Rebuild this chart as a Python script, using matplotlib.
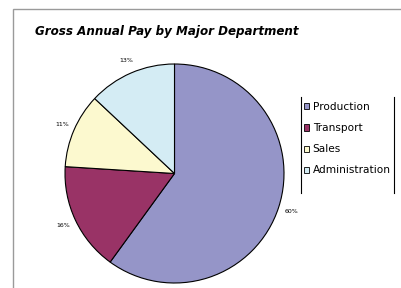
import matplotlib

matplotlib.use("Agg")
import matplotlib.pyplot as plt
from matplotlib.lines import Line2D
from matplotlib.patches import Rectangle

departments = ["Production", "Transport", "Sales", "Administration"]
gross_pay = [60, 16, 11, 13]
slice_colors = ["#9595c8", "#993366", "#fcf9cf", "#d4ecf4"]
chart_title = "Gross Annual Pay by Major Department"

plt.rcParams["font.family"] = ["DejaVu Sans"]

W, H = 401, 288
fig = plt.figure(figsize=(W / 100, H / 100), dpi=100)

# chart area border (extends past the right and bottom of the image)
fig.add_artist(Rectangle((13 / W, -0.1), 1.2, 1.1 - 9 / H, transform=fig.transFigure,
                         facecolor="none", edgecolor="#9a9a9a", linewidth=1.0))

fig.text(35 / W, 1 - 32 / H, chart_title, fontsize=8.6, fontweight="bold",
         fontstyle="italic", va="center", ha="left")

ax = fig.add_axes([65 / W, 5 / H, 219 / W, 219 / H])
wedges, texts, autotexts = ax.pie(
    gross_pay,
    colors=slice_colors,
    startangle=90,
    counterclock=False,
    autopct="%1.0f%%",
    pctdistance=1.12,
    wedgeprops={"edgecolor": "black", "linewidth": 0.8},
    textprops={"fontsize": 4.5},
)
ax.set_xlim(-1, 1)
ax.set_ylim(-1, 1)
ax.set_aspect("equal")

leg = fig.legend(
    wedges, departments,
    loc="upper left",
    bbox_to_anchor=(301 / W, 1 - 99 / H),
    frameon=False,
    fontsize=7.6,
    handlelength=0.5,
    handleheight=0.5,
    handletextpad=0.3,
    labelspacing=1.05,
    borderaxespad=0,
    borderpad=0.3,
)
for h in leg.legend_handles:
    h.set_linewidth(0.6)

for x in (301, 394):
    fig.add_artist(Line2D([x / W, x / W], [1 - 97 / H, 1 - 193 / H],
                          transform=fig.transFigure, color="black", linewidth=0.8))

fig.savefig("out.png", dpi=100)
